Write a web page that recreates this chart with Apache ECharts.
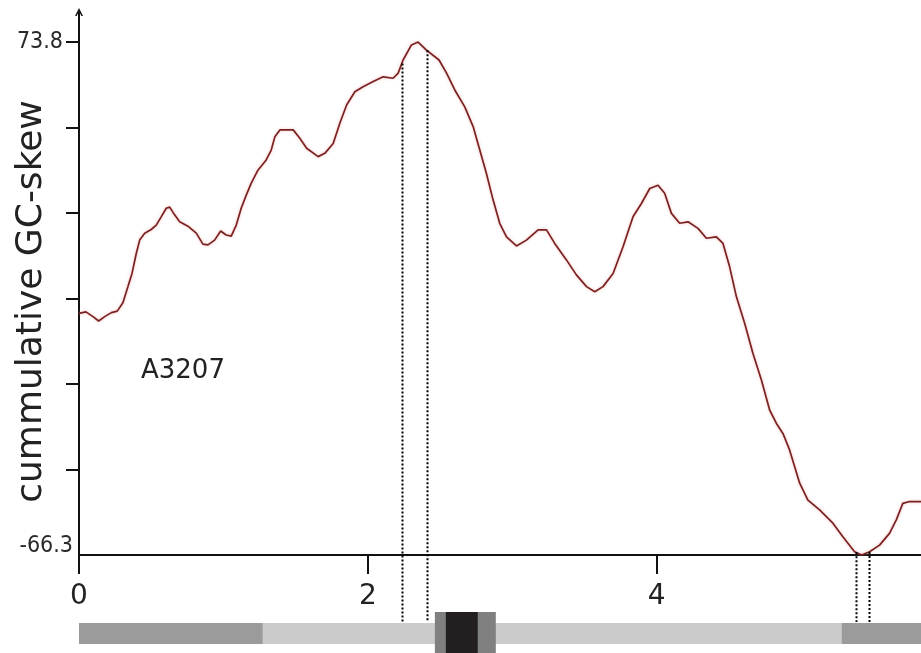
<!DOCTYPE html>
<html>
<head>
<meta charset="utf-8">
<title>cummulative GC-skew</title>
<script src="https://cdn.jsdelivr.net/npm/echarts@6/dist/echarts.min.js"></script>
<style>
  html, body { margin: 0; padding: 0; background: #ffffff; }
  #chart { width: 921px; height: 653px; }
</style>
</head>
<body>
<div id="chart"></div>
<script>
// Genome position (Mb) and cumulative GC-skew along the chromosome
const positions = [
  0.000, 0.048, 0.097, 0.136, 0.178, 0.224, 0.265, 0.304, 0.339, 0.367,
  0.397, 0.420, 0.455, 0.500, 0.535, 0.570, 0.604, 0.628, 0.662, 0.697,
  0.754, 0.812, 0.858, 0.893, 0.939, 0.981, 1.019, 1.054, 1.089, 1.123,
  1.158, 1.192, 1.239, 1.296, 1.331, 1.356, 1.391, 1.483, 1.529, 1.576,
  1.656, 1.702, 1.760, 1.806, 1.853, 1.910, 1.967, 2.037, 2.106, 2.175,
  2.210, 2.244, 2.302, 2.348, 2.406, 2.493, 2.545, 2.602, 2.671, 2.729,
  2.775, 2.821, 2.867, 2.913, 2.960, 3.029, 3.098, 3.179, 3.237, 3.294,
  3.375, 3.444, 3.514, 3.571, 3.628, 3.698, 3.767, 3.836, 3.894, 3.952,
  4.009, 4.055, 4.102, 4.159, 4.217, 4.286, 4.344, 4.413, 4.459, 4.505,
  4.552, 4.609, 4.666, 4.725, 4.782, 4.828, 4.874, 4.920, 4.990, 5.047,
  5.128, 5.220, 5.289, 5.370, 5.419, 5.474, 5.543, 5.612, 5.659, 5.704,
  5.751, 5.830
];
const gcSkew = [
  -0.3, 0.1, -1.2, -2.4, -1.2, -0.1, 0.3, 2.6, 7.0, 10.6,
  16.1, 19.7, 21.6, 22.6, 23.8, 26.1, 28.4, 28.7, 26.6, 24.7,
  23.5, 21.6, 18.6, 18.4, 19.7, 22.2, 21.1, 20.8, 23.8, 28.4,
  32.0, 35.2, 38.8, 41.6, 44.3, 47.9, 49.8, 49.8, 47.5, 44.8,
  42.5, 43.4, 46.1, 51.6, 56.6, 60.2, 61.6, 63.0, 64.3, 63.9,
  65.3, 68.9, 73.0, 73.8, 71.6, 68.9, 65.3, 60.7, 56.1, 50.7,
  44.3, 37.9, 30.7, 24.3, 20.6, 18.1, 19.7, 22.5, 22.5, 18.8,
  14.3, 10.2, 7.0, 5.6, 7.0, 10.6, 17.9, 26.1, 29.7, 33.8,
  34.7, 32.5, 27.0, 24.3, 24.7, 22.9, 20.2, 20.6, 18.8, 12.4,
  4.2, -3.0, -11.2, -18.5, -26.7, -30.3, -33.1, -37.6, -46.7, -51.3,
  -54.0, -57.6, -61.3, -65.4, -66.3, -65.4, -63.6, -60.4, -56.7, -52.2,
  -51.7, -51.7
];

// Axis extent and tick values
const yMin = -66.3;
const yMax = 73.8;
const yTicks = [-42.95, -19.6, 3.75, 27.1, 50.45, 73.8];
const yLabels = [-66.3, 73.8];
const xTicks = [0, 2, 4];
const xMax = 5.83;

// Boundary positions flanking the skew maximum and minimum
const boundaryPositions = [2.235, 2.408, 5.377, 5.467];

// Chromosome map below the axis
const segmentStart = [0, 1.273, 5.28, 2.464, 2.540];
const segmentEnd   = [1.273, 5.28, 5.83, 2.886, 2.761];
const segmentKind  = ['arm', 'body', 'arm', 'box', 'core'];

const strainName = 'A3207';
const yTitle = 'cummulative GC-skew';

// --- drawing ---
const curve = positions.map((p, i) => [p, gcSkew[i]]);

function skewAt(x) {
  for (let i = 1; i < positions.length; i++) {
    if (x <= positions[i]) {
      const t = (x - positions[i - 1]) / (positions[i] - positions[i - 1]);
      return gcSkew[i - 1] + t * (gcSkew[i] - gcSkew[i - 1]);
    }
  }
  return gcSkew[gcSkew.length - 1];
}
const boundaries = boundaryPositions.map(x => [x, skewAt(x)]);

const kindStyle = {
  arm:  { fill: '#9b9b9b', top: 68, height: 21 },
  body: { fill: '#cbcbcb', top: 68, height: 21 },
  box:  { fill: '#808080', top: 57, height: 44 },
  core: { fill: '#231f20', top: 57, height: 44 }
};

const AXIS_FONT = "'DejaVu Sans', 'Liberation Sans', sans-serif";
const NARROW_FONT = "'DejaVu Sans Condensed', 'Liberation Sans Narrow', 'DejaVu Sans', sans-serif";

const chart = echarts.init(document.getElementById('chart'), null, { renderer: 'canvas' });

chart.setOption({
  animation: false,
  backgroundColor: '#ffffff',
  grid: { left: 79, right: 0, top: 12, bottom: 98, containLabel: false, outerBoundsMode: 'none' },
  title: {
    text: strainName,
    left: 136,
    top: 353,
    textStyle: { fontFamily: AXIS_FONT, fontSize: 26, fontWeight: 'normal', color: '#222222' }
  },
  xAxis: {
    type: 'value',
    min: 0,
    max: xMax,
    axisLine: { show: true, onZero: false, lineStyle: { color: '#111111', width: 2 } },
    axisTick: { show: true, customValues: xTicks, length: 19, lineStyle: { color: '#111111', width: 2 } },
    axisLabel: {
      customValues: xTicks,
      margin: 28,
      fontFamily: AXIS_FONT,
      fontSize: 28,
      color: '#222222'
    },
    splitLine: { show: false }
  },
  yAxis: {
    type: 'value',
    min: yMin,
    max: 82.0,
    name: yTitle,
    nameLocation: 'middle',
    nameRotate: 90,
    nameGap: 29,
    nameMoveOverlap: false,
    nameTextStyle: {
      fontFamily: AXIS_FONT,
      fontSize: 36,
      color: '#222222',
      padding: [0, 36, 0, 0]
    },
    axisLine: {
      show: true,
      onZero: false,
      lineStyle: { color: '#111111', width: 2 },
      symbol: ['none', 'path://M0,10 L5,0 L10,10 L8,10 L5,4 L2,10 Z'],
      symbolSize: [8, 9]
    },
    axisTick: { show: true, customValues: yTicks, length: 13, lineStyle: { color: '#111111', width: 2 } },
    axisLabel: {
      customValues: yLabels,
      margin: 6,
      fontFamily: NARROW_FONT,
      fontSize: 23,
      color: '#2a2a2a',
      formatter: v => (v > 0 ? '{hi|' : '{lo|') + v.toFixed(1) + '}',
      rich: {
        hi: { fontFamily: NARROW_FONT, fontSize: 23, color: '#2a2a2a', padding: [0, 10, 0, 0] },
        lo: { fontFamily: NARROW_FONT, fontSize: 23, color: '#2a2a2a', padding: [0, 0, 18, 0] }
      }
    },
    splitLine: { show: false }
  },
  series: [
    {
      type: 'line',
      data: curve,
      showSymbol: false,
      lineStyle: {
        color: '#7a2222',
        width: 1.7,
        shadowColor: 'rgba(235, 130, 130, 0.55)',
        shadowBlur: 3
      },
      z: 3
    },
    {
      type: 'custom',
      clip: false,
      data: segmentStart.map((s, i) => [s, segmentEnd[i]]),
      encode: { x: [0, 1] },
      renderItem: function (params, api) {
        const st = kindStyle[segmentKind[params.dataIndex]];
        const base = api.coord([0, yMin])[1];
        const a = api.coord([api.value(0), yMin]);
        const b = api.coord([api.value(1), yMin]);
        return {
          type: 'rect',
          shape: { x: a[0], y: base + st.top, width: b[0] - a[0], height: st.height },
          style: { fill: st.fill }
        };
      },
      z: 2
    },
    {
      type: 'custom',
      clip: false,
      data: boundaries,
      encode: { x: 0, y: 1 },
      renderItem: function (params, api) {
        const top = api.coord([api.value(0), api.value(1)]);
        const base = api.coord([0, yMin])[1];
        const x = Math.round(top[0]) + 0.5;
        return {
          type: 'line',
          shape: { x1: x, y1: top[1], x2: x, y2: base + 67 },
          style: { stroke: '#000000', lineWidth: 2, lineDash: [2, 2] }
        };
      },
      z: 4
    }
  ]
});
</script>
</body>
</html>
